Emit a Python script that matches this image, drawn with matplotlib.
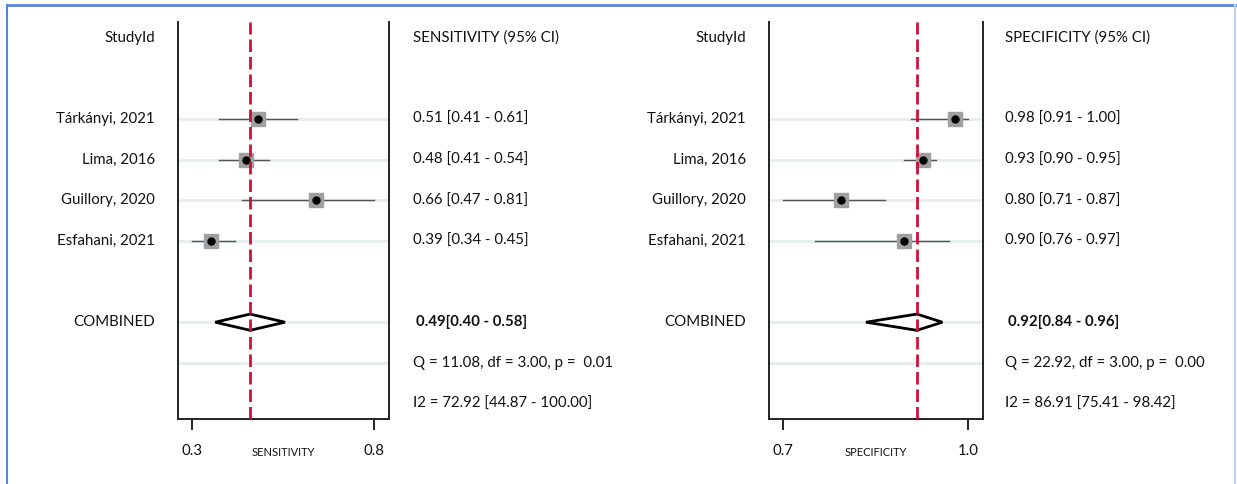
import matplotlib
matplotlib.use("Agg")
import matplotlib.pyplot as plt
from matplotlib.patches import Polygon
from matplotlib.lines import Line2D
import matplotlib.transforms as mtransforms

plt.rcParams['font.family'] = ['Lato', 'DejaVu Sans']

# ---------------- data ----------------
studies = ["Tárkányi, 2021", "Lima, 2016", "Guillory, 2020", "Esfahani, 2021"]

sens = [0.51, 0.48, 0.66, 0.39]
sens_lo = [0.41, 0.41, 0.47, 0.34]
sens_hi = [0.61, 0.54, 0.81, 0.45]
sens_pooled = [0.49, 0.40, 0.58]
sens_het = "Q = 11.08, df = 3.00, p =  0.01"
sens_i2 = "I2 = 72.92 [44.87 - 100.00]"

spec = [0.98, 0.93, 0.80, 0.90]
spec_lo = [0.91, 0.90, 0.71, 0.76]
spec_hi = [1.00, 0.95, 0.87, 0.97]
spec_pooled = [0.92, 0.84, 0.96]
spec_het = "Q = 22.92, df = 3.00, p =  0.00"
spec_i2 = "I2 = 86.91 [75.41 - 98.42]"

W, H = 1237, 484
fig = plt.figure(figsize=(W / 100, H / 100), dpi=100)

# blue frame
fig.add_artist(Line2D([7 / W, 1.0], [1 - 5 / H, 1 - 5 / H], transform=fig.transFigure,
                      color="#5B86D6", lw=2))
fig.add_artist(Line2D([7 / W, 7 / W], [0, 1 - 5 / H], transform=fig.transFigure,
                      color="#5B86D6", lw=1.5))
fig.add_artist(Line2D([1235 / W, 1235 / W], [0, 1 - 5 / H], transform=fig.transFigure,
                      color="#BFD0F0", lw=1.5))

ROW_STUDY = [2, 3, 4, 5]
ROW_COMB = 7
ROW_Q = 8
ROW_I2 = 9
FS = 10.8
TXT = "#111111"


def panel(x_left, x_right, lab_x, txt_x, title, xlabel,
          est, lo, hi, pooled, het, i2):
    top_px, bot_px = 22, 419
    ax = fig.add_axes([x_left / W, 1 - bot_px / H, (x_right - x_left) / W,
                       (bot_px - top_px) / H])
    row0, rowh = 38, 40.6
    ax.set_ylim((bot_px - row0) / rowh, (top_px - row0) / rowh)
    vmin, vmax = min(lo), max(hi)
    span = vmax - vmin
    ax.set_xlim(vmin - 0.077 * span, vmax + 0.082 * span)

    ax.spines["top"].set_visible(False)
    for s in ["left", "right", "bottom"]:
        ax.spines[s].set_linewidth(1.4)
        ax.spines[s].set_color("#222222")
    ax.set_yticks([])
    ax.set_xticks([vmin, vmax])
    ax.set_xticklabels([f"{vmin:.1f}", f"{vmax:.1f}"], fontsize=FS, color=TXT)
    ax.tick_params(axis="x", length=8, width=1.4, pad=10, color="#222222")

    # light row lines
    for r in ROW_STUDY + [ROW_COMB, ROW_Q]:
        ax.axhline(r, color="#E6EEF2", lw=2.2, zorder=0)

    # study CIs and markers
    for r, e, l, h in zip(ROW_STUDY, est, lo, hi):
        ax.plot([l, h], [r, r], color="#555555", lw=1.0, zorder=2)
        ax.plot([e], [r], marker="s", ms=9.5, color="#A0A0A0", mec="#A0A0A0", zorder=3)
        ax.plot([e], [r], marker="o", ms=5, color="black", zorder=4)

    # pooled diamond
    pe, pl, ph = pooled
    dia = Polygon([[pl, ROW_COMB], [pe, ROW_COMB - 0.2], [ph, ROW_COMB],
                   [pe, ROW_COMB + 0.2]], closed=True, fc="white", ec="black",
                  lw=2, zorder=3)
    ax.add_patch(dia)

    # dashed pooled line
    ax.axvline(pe, color="#D0103A", lw=2, dashes=(4.5, 1.8), zorder=5)

    # texts
    tr = mtransforms.blended_transform_factory(fig.transFigure, ax.transData)
    kw = dict(transform=tr, va="center", fontsize=FS, clip_on=False, color=TXT)
    ax.text(lab_x / W, 0, "StudyId", ha="right", **kw)
    for r, name in zip(ROW_STUDY, studies):
        ax.text(lab_x / W, r, name, ha="right", **kw)
    ax.text(lab_x / W, ROW_COMB, "COMBINED", ha="right", **kw)

    ax.text(txt_x / W, 0, title, ha="left", **kw)
    for r, e, l, h in zip(ROW_STUDY, est, lo, hi):
        ax.text(txt_x / W, r, f"{e:.2f} [{l:.2f} - {h:.2f}]", ha="left", **kw)
    ax.text((txt_x + 3) / W, ROW_COMB, f"{pe:.2f}[{pl:.2f} - {ph:.2f}]",
            ha="left", fontweight="bold", **kw)
    ax.text(txt_x / W, ROW_Q, het, ha="left", **kw)
    ax.text(txt_x / W, ROW_I2, i2, ha="left", **kw)

    fig.text((x_left + x_right) / 2 / W, 1 - 453 / H, xlabel, ha="center",
             va="center", fontsize=8, color=TXT)
    return ax


panel(178, 389, 155, 413, "SENSITIVITY (95% CI)", "SENSITIVITY",
      sens, sens_lo, sens_hi, sens_pooled, sens_het, sens_i2)
panel(769, 983, 746, 1005, "SPECIFICITY (95% CI)", "SPECIFICITY",
      spec, spec_lo, spec_hi, spec_pooled, spec_het, spec_i2)

fig.savefig("out.png", dpi=100)
